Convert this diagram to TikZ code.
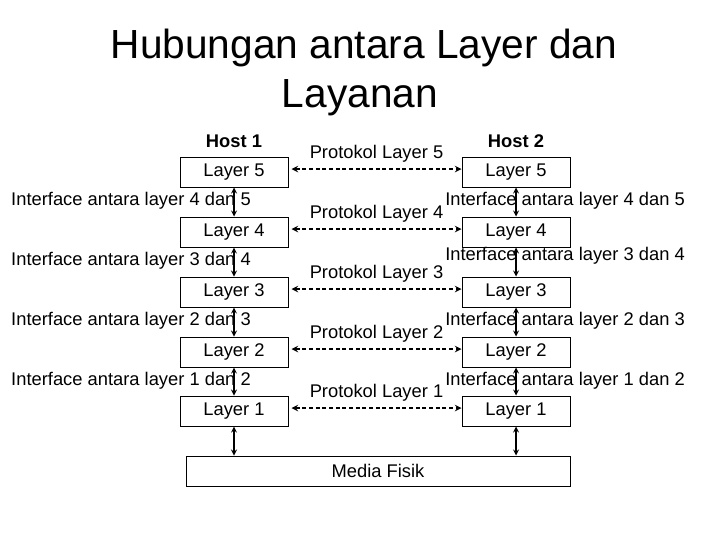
\documentclass[tikz,border=0pt]{standalone}
\usepackage{fontspec}
\setmainfont{Liberation Sans}
\usetikzlibrary{arrows,positioning,calc}
\newcommand\judulfont{\fontsize{30.5}{36}\selectfont}
\newcommand\isifont{\fontsize{13.75}{16}\selectfont}
\tikzset{
  lyr/.style   = {draw, line width=0.75pt, minimum width=81pt, minimum height=22.5pt,
                  inner sep=0pt, font=\isifont},
  lbl/.style   = {inner sep=0pt, font=\isifont},
  iface/.style = {black, line width=1pt, stealth-stealth},
  proto/.style = {black, line width=1.2pt, dash pattern=on 3pt off 2pt, stealth-stealth},
}
\begin{document}
\begin{tikzpicture}[x=0.75pt,y=-0.75pt]
  \useasboundingbox[fill=white] (0,0) rectangle (720,540);
  \node[inner sep=0pt, font=\judulfont, anchor=base] (judul1) at (364,58) {Hubungan antara Layer dan};
  \node[inner sep=0pt, font=\judulfont, anchor=base] (judul2) at (360,107) {Layanan};
  \node[lbl, font=\isifont\bfseries] (host1) at (234,141) {Host 1};
  \node[lbl, font=\isifont\bfseries] (host2) at (516,141) {Host 2};
  % tumpukan layer kedua host + protokol sejajar
  \foreach \n/\y in {5/172,4/232,3/292,2/352,1/411} {
    \node[lyr] (a\n) at (234,\y) {Layer \n};
    \node[lyr] (b\n) at (516,\y) {Layer \n};
    \draw[proto] ([xshift=2.25pt,yshift=2.25pt]a\n.east) -- ([yshift=2.25pt]b\n.west)
      node[lbl, midway, above=4.5pt] (p\n) {Protokol Layer \n};
  }
  % interface antar layer
  \foreach \u/\l/\yl/\yr in {5/4/201/201, 4/3/261/256, 3/2/321/321, 2/1/381/381} {
    \draw[iface] (a\u.south) -- (a\l.north);
    \draw[iface] (b\u.south) -- (b\l.north);
    \node[lbl, anchor=east] (ka\l) at (251,\yl) {Interface antara layer \l\ dan \u};
    \node[lbl, anchor=west] (kb\l) at (445,\yr) {Interface antara layer \l\ dan \u};
  }
  \node[lyr, minimum width=288pt] (media) at (378,471) {Media Fisik};
  \draw[iface] (a1.south) -- (a1.south |- media.north);
  \draw[iface] (b1.south) -- (b1.south |- media.north);
\end{tikzpicture}
\end{document}
